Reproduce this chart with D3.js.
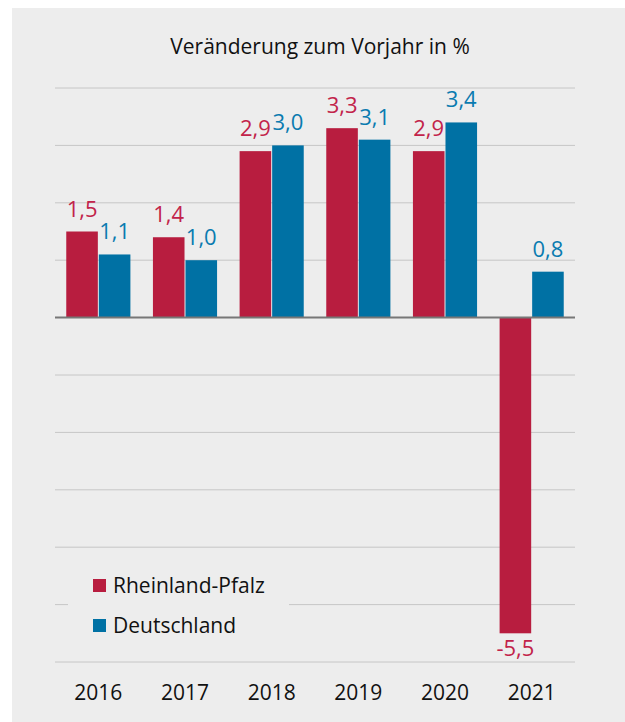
<!DOCTYPE html>
<html>
<head>
<meta charset="utf-8">
<script src="https://cdn.jsdelivr.net/npm/d3@7"></script>
<style>
html,body{margin:0;padding:0;background:#fff;}
svg{display:block;}
text{font-family:"Open Sans","Noto Sans",sans-serif;}
</style>
</head>
<body>
<div id="chart"></div>
<script>
const years = ["2016","2017","2018","2019","2020","2021"];
const seriesNames = ["Rheinland-Pfalz","Deutschland"];
const rlp = [1.5,1.4,2.9,3.3,2.9,-5.5];
const de = [1.1,1.0,3.0,3.1,3.4,0.8];
const gridTicks = [-6,-5,-4,-3,-2,-1,0,1,2,3,4];
const title = "Veränderung zum Vorjahr in %";

const colors = {"Rheinland-Pfalz":"#b81d3f","Deutschland":"#0071a4"};
const labelColors = {"Rheinland-Pfalz":"#c2234a","Deutschland":"#0a7bb0"};

const W = 625, H = 722;
const svg = d3.select("#chart").append("svg").attr("width",W).attr("height",H);

svg.append("rect").attr("x",12).attr("y",8).attr("width",W-12).attr("height",H-8).attr("fill","#ededed");

const y = d3.scaleLinear().domain([-6,4]).range([662,88]);
const x0 = d3.scaleBand().domain(years).range([55,575]).paddingInner(0.26).paddingOuter(0.13);
const x1 = d3.scaleBand().domain(seriesNames).range([0,x0.bandwidth()]).paddingInner(0.03);

const data = years.map((yr,i)=>({year:yr, values:[{name:seriesNames[0],v:rlp[i]},{name:seriesNames[1],v:de[i]}]}));

// grid
svg.append("g").selectAll("line").data(gridTicks.filter(t=>t!==0)).join("line")
  .attr("x1",55).attr("x2",575)
  .attr("y1",d=>y(d)).attr("y2",d=>y(d))
  .attr("stroke","#c6c6c6").attr("stroke-width",1);

// title
svg.append("text").attr("x",320).attr("y",54).attr("text-anchor","middle")
  .attr("font-size",21).attr("fill","#111").text(title);

// bars
const g = svg.append("g").selectAll("g").data(data).join("g")
  .attr("transform",d=>`translate(${x0(d.year)},0)`);

g.selectAll("rect").data(d=>d.values).join("rect")
  .attr("x",d=>x1(d.name))
  .attr("width",x1.bandwidth())
  .attr("y",d=>d.v>=0?y(d.v):y(0))
  .attr("height",d=>Math.abs(y(d.v)-y(0)))
  .attr("fill",d=>colors[d.name]);

g.selectAll("text").data(d=>d.values).join("text")
  .attr("x",d=>x1(d.name)+x1.bandwidth()/2)
  .attr("y",d=>d.v>=0?y(d.v)-15:y(d.v)+23)
  .attr("text-anchor","middle")
  .attr("font-size",22)
  .attr("fill",d=>labelColors[d.name])
  .text(d=>d3.format(".1f")(d.v).replace(".",",").replace("−","-"));

// zero line
svg.append("line").attr("x1",55).attr("x2",575).attr("y1",y(0)).attr("y2",y(0))
  .attr("stroke","#777").attr("stroke-width",2);

// x axis labels
const xAxis = d3.axisBottom(x0).tickSize(0).tickPadding(0);
const ax = svg.append("g").attr("transform","translate(0,700)").call(xAxis);
ax.select(".domain").remove();
ax.selectAll("text").attr("font-size",21).attr("fill","#111").attr("dy",0)
  .style("font-family","'Open Sans','Noto Sans',sans-serif");

// legend
const leg = svg.append("g");
leg.append("rect").attr("x",68).attr("y",560).attr("width",221).attr("height",88).attr("fill","#ededed");
const li = leg.selectAll("g").data(seriesNames).join("g")
  .attr("transform",(d,i)=>`translate(93,${579+i*40})`);
li.append("rect").attr("width",13).attr("height",13).attr("fill",d=>colors[d]);
li.append("text").attr("x",20).attr("y",14).attr("font-size",21).attr("fill","#111").text(d=>d);
</script>
</body>
</html>
